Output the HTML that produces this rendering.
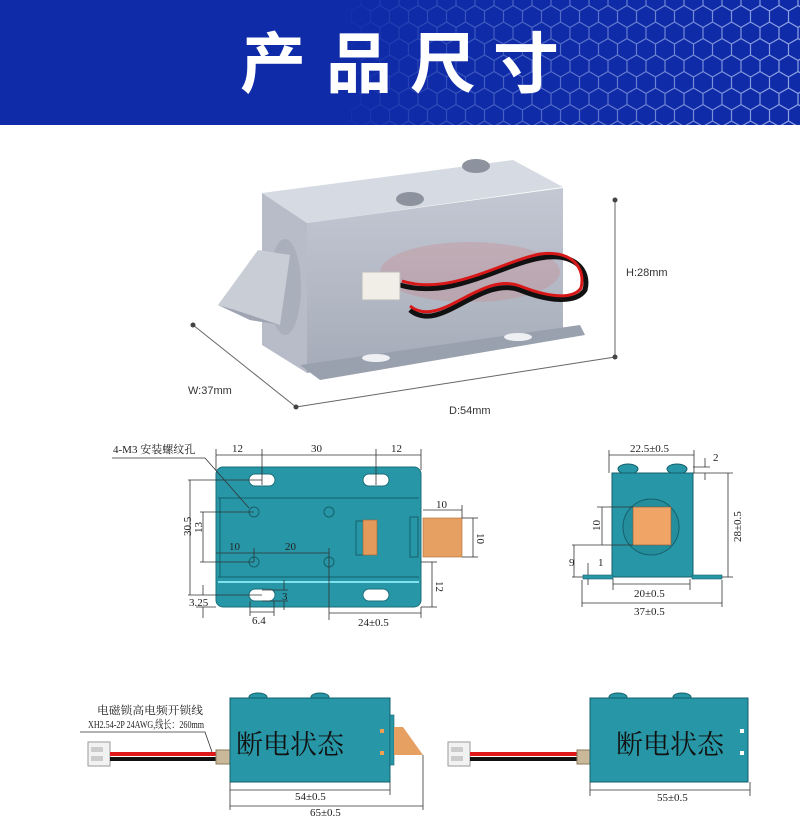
<!DOCTYPE html>
<html><head><meta charset="utf-8"><style>
html,body{margin:0;padding:0;background:#fff;}
svg{display:block;}
.t{font-family:"Liberation Serif","Noto Serif CJK SC",serif;font-size:11px;fill:#222;}
.s{font-family:"Liberation Sans",sans-serif;font-size:11px;fill:#333;}
.d{stroke:#333;stroke-width:0.8;fill:none;}
</style></head><body>
<svg width="800" height="830" viewBox="0 0 800 830" xmlns="http://www.w3.org/2000/svg">
<defs>
<pattern id="hex" width="19" height="33" patternUnits="userSpaceOnUse">
<path d="M0,0 L0,5.5 L9.5,11 L9.5,22 L0,27.5 L0,33 M9.5,11 L19,5.5 L19,0 M9.5,22 L19,27.5 L19,33" fill="none" stroke="#9fb2ea" stroke-width="1.2"/>
</pattern>
<linearGradient id="hm" x1="0" x2="1"><stop offset="0.42" stop-color="#fff" stop-opacity="0"/><stop offset="0.6" stop-color="#fff" stop-opacity="0.35"/><stop offset="1" stop-color="#fff" stop-opacity="0.9"/></linearGradient>
<mask id="mk"><rect x="0" y="0" width="800" height="125" fill="url(#hm)"/></mask>
<linearGradient id="box" x1="0" y1="0" x2="0" y2="1"><stop offset="0" stop-color="#c3c8d3"/><stop offset="1" stop-color="#a5abb8"/></linearGradient>
</defs>
<rect x="0" y="0" width="800" height="125" fill="#0f2ba8"/>
<rect x="0" y="0" width="800" height="125" fill="url(#hex)" mask="url(#mk)"/>
<g font-family="'Noto Sans CJK SC',sans-serif" font-size="66" font-weight="bold" fill="#fff">
<text x="240" y="87">产</text><text x="326" y="87">品</text><text x="410" y="87">尺</text><text x="493" y="87">寸</text>
</g>

<!-- product photo -->
<g>
<polygon points="262,193 513,160 563,187 307,223" fill="#d6dae2"/>
<polygon points="307,223 563,188 563,337 307,373" fill="url(#box)"/>
<polygon points="262,193 307,223 307,373 262,345" fill="#b7bcc8"/>
<polygon points="300,365 580,325 585,335 320,380" fill="#9aa1ae"/>
<ellipse cx="376" cy="358" rx="14" ry="4" fill="#eef0f4"/>
<ellipse cx="518" cy="337" rx="14" ry="4" fill="#eef0f4"/>
<ellipse cx="285" cy="287" rx="16" ry="48" fill="#a9afbb"/>
<polygon points="218,305 258,250 290,255 280,325 250,320" fill="#c9cdd6"/>
<polygon points="218,305 250,320 280,325 235,310" fill="#9ea4b1"/>
<ellipse cx="476" cy="166" rx="14" ry="7" fill="#8d939e"/>
<ellipse cx="410" cy="199" rx="14" ry="7" fill="#8d939e"/>
<ellipse cx="470" cy="272" rx="90" ry="30" fill="#e05a5a" opacity="0.18"/>
<path d="M400,285 C450,300 500,265 540,258 C575,252 590,270 585,290 C575,305 545,300 520,290 C480,275 440,335 410,310" fill="none" stroke="#111" stroke-width="5"/>
<path d="M402,281 C450,296 500,262 540,254 C572,250 586,268 581,288 C572,301 545,296 520,286 C480,271 440,330 410,306" fill="none" stroke="#d81818" stroke-width="3"/>
<rect x="362" y="272" width="38" height="28" fill="#f0eee6" stroke="#bbb"/>
<line x1="193" y1="325" x2="296" y2="407" stroke="#666"/>
<line x1="296" y1="407" x2="615" y2="357" stroke="#666"/>
<line x1="615" y1="200" x2="615" y2="357" stroke="#666"/>
<circle cx="193" cy="325" r="2.5" fill="#444"/><circle cx="296" cy="407" r="2.5" fill="#444"/>
<circle cx="615" cy="200" r="2.5" fill="#444"/><circle cx="615" cy="357" r="2.5" fill="#444"/>
<text class="s" x="188" y="394">W:37mm</text>
<text class="s" x="449" y="414">D:54mm</text>
<text class="s" x="626" y="276">H:28mm</text>
</g>

<!-- top view -->
<g>
<rect x="216" y="467" width="205" height="140" rx="7" fill="#2796a6" stroke="#1b6f7b"/>
<line x1="218" y1="498" x2="419" y2="498" stroke="#16606c"/>
<line x1="218" y1="577" x2="419" y2="577" stroke="#16606c"/>
<line x1="218" y1="582" x2="419" y2="582" stroke="#7fe0ee" stroke-width="2"/>
<line x1="220" y1="498" x2="220" y2="577" stroke="#16606c"/>
<rect x="410" y="517" width="8" height="40" fill="#2796a6" stroke="#16606c"/>
<rect x="249" y="474" width="26" height="12" rx="6" fill="#fff" stroke="#1b6f7b"/>
<rect x="363" y="474" width="26" height="12" rx="6" fill="#fff" stroke="#1b6f7b"/>
<rect x="249" y="589" width="26" height="12" rx="6" fill="#fff" stroke="#1b6f7b"/>
<rect x="363" y="589" width="26" height="12" rx="6" fill="#fff" stroke="#1b6f7b"/>
<circle cx="254" cy="512" r="5" fill="none" stroke="#16606c"/>
<circle cx="329" cy="512" r="5" fill="none" stroke="#16606c"/>
<circle cx="254" cy="562" r="5" fill="none" stroke="#16606c"/>
<circle cx="329" cy="562" r="5" fill="none" stroke="#16606c"/>
<rect x="356" y="521" width="8" height="34" fill="#2796a6" stroke="#16606c"/>
<rect x="363" y="520" width="14" height="35" fill="#e39a5a" stroke="#a06030" stroke-width="0.6"/>
<rect x="423" y="518" width="39" height="39" fill="#e6a062" stroke="#a86a36" stroke-width="0.6"/>
<g class="d">
<line x1="216" y1="455" x2="421" y2="455"/><line x1="216" y1="449" x2="216" y2="470"/><line x1="262" y1="449" x2="262" y2="485"/><line x1="376" y1="449" x2="376" y2="485"/><line x1="421" y1="449" x2="421" y2="470"/>
<polyline points="112,458 205,458 249,508"/>
<line x1="188" y1="480" x2="262" y2="480"/><line x1="188" y1="595" x2="262" y2="595"/><line x1="190" y1="480" x2="190" y2="595"/>
<line x1="200" y1="512" x2="254" y2="512"/><line x1="200" y1="562" x2="254" y2="562"/><line x1="203" y1="512" x2="203" y2="562"/>
<line x1="196" y1="607" x2="216" y2="607"/><line x1="203" y1="585" x2="203" y2="595"/><line x1="203" y1="607" x2="203" y2="618"/>
<line x1="216" y1="553" x2="329" y2="553"/><line x1="254" y1="548" x2="254" y2="562"/><line x1="329" y1="548" x2="329" y2="620"/>
<line x1="284" y1="580" x2="284" y2="590"/><line x1="284" y1="601" x2="284" y2="610"/><line x1="262" y1="590" x2="288" y2="590"/><line x1="262" y1="601" x2="288" y2="601"/>
<line x1="250" y1="601" x2="250" y2="616"/><line x1="274" y1="601" x2="274" y2="616"/><line x1="250" y1="612" x2="274" y2="612"/>
<line x1="329" y1="613" x2="421" y2="613"/><line x1="421" y1="607" x2="421" y2="618"/>
<line x1="423" y1="510" x2="462" y2="510"/><line x1="462" y1="505" x2="462" y2="518"/>
<line x1="462" y1="518" x2="478" y2="518"/><line x1="462" y1="557" x2="478" y2="557"/><line x1="473" y1="518" x2="473" y2="557"/>
<line x1="421" y1="562" x2="437" y2="562"/><line x1="421" y1="607" x2="437" y2="607"/><line x1="432" y1="562" x2="432" y2="607"/>
</g>
<text class="t" x="113" y="453">4-M3 安装螺纹孔</text>
<text class="t" x="232" y="452">12</text><text class="t" x="311" y="452">30</text><text class="t" x="391" y="452">12</text>
<text class="t" x="187" y="548" transform="rotate(-90 183 540)">30.5</text>
<text class="t" x="202" y="541" transform="rotate(-90 198 537)">13</text>
<text class="t" x="229" y="550">10</text><text class="t" x="285" y="550">20</text>
<text class="t" x="189" y="606">3.25</text><text class="t" x="282" y="600">3</text>
<text class="t" x="252" y="624">6.4</text><text class="t" x="358" y="626">24±0.5</text>
<text class="t" x="436" y="508">10</text>
<text class="t" x="477" y="541" transform="rotate(90 481 537)">10</text>
<text class="t" x="436" y="589" transform="rotate(90 440 585)">12</text>
</g>

<!-- end view -->
<g>
<ellipse cx="628" cy="469" rx="10" ry="5" fill="#2796a6" stroke="#16606c"/>
<ellipse cx="677" cy="469" rx="10" ry="5" fill="#2796a6" stroke="#16606c"/>
<rect x="612" y="473" width="81" height="104" fill="#2796a6" stroke="#16606c"/>
<rect x="583" y="575" width="30" height="4" fill="#2796a6" stroke="#16606c" stroke-width="0.6"/>
<rect x="692" y="575" width="30" height="4" fill="#2796a6" stroke="#16606c" stroke-width="0.6"/>
<circle cx="651" cy="527" r="28" fill="#248e9d" stroke="#16606c"/>
<rect x="633" y="507" width="38" height="38" fill="#f0a466" stroke="#8a5a30" stroke-width="0.6"/>
<g class="d">
<line x1="609" y1="455" x2="694" y2="455"/><line x1="609" y1="450" x2="609" y2="473"/><line x1="694" y1="450" x2="694" y2="473"/>
<line x1="693" y1="467" x2="710" y2="467"/><line x1="693" y1="473" x2="733" y2="473"/><line x1="705" y1="458" x2="705" y2="467"/><line x1="705" y1="473" x2="705" y2="480"/>
<line x1="722" y1="577" x2="733" y2="577"/><line x1="728" y1="473" x2="728" y2="577"/>
<line x1="597" y1="507" x2="633" y2="507"/><line x1="572" y1="545" x2="633" y2="545"/><line x1="602" y1="507" x2="602" y2="545"/>
<line x1="572" y1="577" x2="583" y2="577"/><line x1="574" y1="545" x2="574" y2="577"/>
<line x1="588" y1="563" x2="588" y2="575"/><line x1="588" y1="579" x2="588" y2="585"/>
<line x1="613" y1="579" x2="613" y2="590"/><line x1="690" y1="579" x2="690" y2="590"/><line x1="613" y1="584" x2="690" y2="584"/>
<line x1="582" y1="580" x2="582" y2="607"/><line x1="722" y1="580" x2="722" y2="607"/><line x1="582" y1="603" x2="722" y2="603"/>
</g>
<text class="t" x="630" y="452">22.5±0.5</text><text class="t" x="713" y="461">2</text>
<text class="t" x="720" y="529" transform="rotate(-90 737 525)">28±0.5</text>
<text class="t" x="591" y="530" transform="rotate(-90 596 526)">10</text>
<text class="t" x="569" y="566">9</text><text class="t" x="598" y="566">1</text>
<text class="t" x="634" y="597">20±0.5</text><text class="t" x="634" y="615">37±0.5</text>
</g>

<!-- bottom left -->
<g>
<rect x="88" y="742" width="22" height="24" fill="#f2f2f2" stroke="#999"/>
<rect x="91" y="747" width="12" height="5" fill="#ccc"/><rect x="91" y="756" width="12" height="5" fill="#ccc"/>
<rect x="110" y="752" width="106" height="4" fill="#e01818"/><rect x="110" y="757" width="106" height="4" fill="#111"/>
<rect x="216" y="750" width="14" height="14" fill="#c9b99a" stroke="#8a7a5a"/>
<ellipse cx="258" cy="697" rx="9" ry="4" fill="#2796a6" stroke="#16606c"/>
<ellipse cx="320" cy="697" rx="9" ry="4" fill="#2796a6" stroke="#16606c"/>
<rect x="230" y="698" width="160" height="84" fill="#2796a6" stroke="#16606c"/>
<rect x="390" y="715" width="4" height="50" fill="#2796a6" stroke="#16606c" stroke-width="0.6"/>
<polygon points="394,727 394,755 423,755 403,727" fill="#e6a062"/>
<rect x="380" y="729" width="4" height="4" fill="#f0a050"/><rect x="380" y="751" width="4" height="4" fill="#f0a050"/>
<text x="290" y="754" text-anchor="middle" font-family="'Noto Serif CJK SC',serif" font-size="27" fill="#111">断电状态</text>
<g class="d">
<polyline points="80,732 205,732 212,752"/>
<line x1="230" y1="782" x2="230" y2="810"/><line x1="390" y1="782" x2="390" y2="795"/><line x1="423" y1="755" x2="423" y2="810"/>
<line x1="230" y1="790" x2="390" y2="790"/><line x1="230" y1="806" x2="423" y2="806"/>
</g>
<text class="t" x="97" y="714" textLength="106" lengthAdjust="spacingAndGlyphs">电磁锁高电频开锁线</text>
<text class="t" x="88" y="728" font-size="10" textLength="116" lengthAdjust="spacingAndGlyphs">XH2.54-2P 24AWG,线长：260mm</text>
<text class="t" x="295" y="800" font-size="9">54±0.5</text>
<text class="t" x="310" y="816" font-size="9">65±0.5</text>
</g>

<!-- bottom right -->
<g>
<rect x="448" y="742" width="22" height="24" fill="#f2f2f2" stroke="#999"/>
<rect x="451" y="747" width="12" height="5" fill="#ccc"/><rect x="451" y="756" width="12" height="5" fill="#ccc"/>
<rect x="470" y="752" width="107" height="4" fill="#e01818"/><rect x="470" y="757" width="107" height="4" fill="#111"/>
<rect x="577" y="750" width="13" height="14" fill="#c9b99a" stroke="#8a7a5a"/>
<ellipse cx="618" cy="697" rx="9" ry="4" fill="#2796a6" stroke="#16606c"/>
<ellipse cx="682" cy="697" rx="9" ry="4" fill="#2796a6" stroke="#16606c"/>
<rect x="590" y="698" width="158" height="84" fill="#2796a6" stroke="#16606c"/>
<rect x="740" y="729" width="4" height="4" fill="#fff"/><rect x="740" y="751" width="4" height="4" fill="#fff"/>
<text x="670" y="754" text-anchor="middle" font-family="'Noto Serif CJK SC',serif" font-size="27" fill="#111">断电状态</text>
<g class="d"><line x1="590" y1="782" x2="590" y2="796"/><line x1="750" y1="782" x2="750" y2="796"/><line x1="590" y1="790" x2="750" y2="790"/></g>
<text class="t" x="657" y="801" font-size="9">55±0.5</text>
</g>
</svg>
</body></html>
